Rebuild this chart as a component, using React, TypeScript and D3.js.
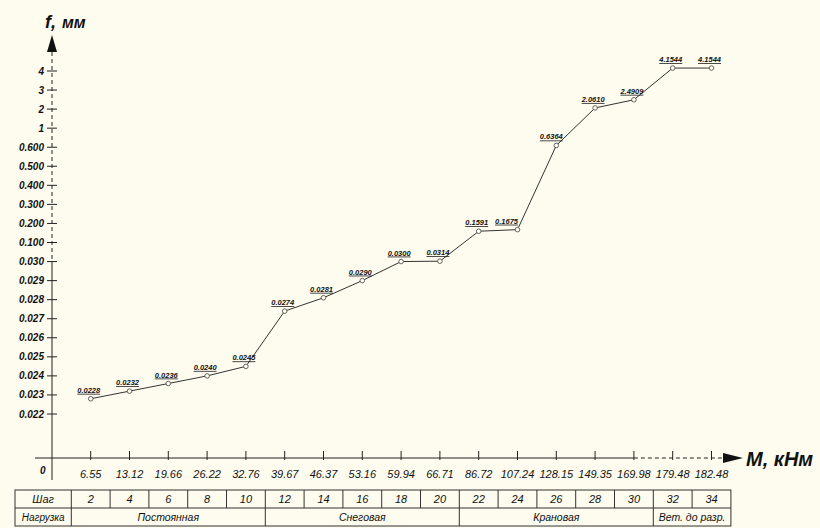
import * as d3 from "d3";

// M, kN·m — one tick per load step
const moments = [
  "6.55", "13.12", "19.66", "26.22", "32.76", "39.67", "46.37", "53.16", "59.94",
  "66.71", "86.72", "107.24", "128.15", "149.35", "169.98", "179.48", "182.48",
];
const steps = ["2", "4", "6", "8", "10", "12", "14", "16", "18", "20", "22", "24", "26", "28", "30", "32", "34"];
// deflection f, mm
const deflections = [
  0.0228, 0.0232, 0.0236, 0.024, 0.0245, 0.0274, 0.0281, 0.029, 0.03, 0.0314,
  0.1591, 0.1675, 0.6364, 2.061, 2.4909, 4.1544, 4.1544,
];
const deflLabels = [
  "0.0228", "0.0232", "0.0236", "0.0240", "0.0245", "0.0274", "0.0281", "0.0290", "0.0300", "0.0314",
  "0.1591", "0.1675", "0.6364", "2.0610", "2.4909", "4.1544", "4.1544",
];
// the y axis is broken: equal spacing between these ticks
const yTicks = [0.022, 0.023, 0.024, 0.025, 0.026, 0.027, 0.028, 0.029, 0.03, 0.1, 0.2, 0.3, 0.4, 0.5, 0.6, 1, 2, 3, 4];
const yTickLabels = [
  "0.022", "0.023", "0.024", "0.025", "0.026", "0.027", "0.028", "0.029", "0.030",
  "0.100", "0.200", "0.300", "0.400", "0.500", "0.600", "1", "2", "3", "4",
];
const loads = [
  { name: "Постоянная", from: 0, to: 4 },
  { name: "Снеговая", from: 5, to: 9 },
  { name: "Крановая", from: 10, to: 14 },
  { name: "Вет. до разр.", from: 15, to: 16 },
];

const W = 820;
const H = 528;
const axisX = 52;
const axisY = 458;
const font = "'Liberation Sans', Arial, sans-serif";

export default function App() {
  const x = d3.scalePoint<string>().domain(moments).range([90.7, 711.5]);
  const step = x.step();

  const yTop = 71;
  const yBottom = 414;
  const yStep = (yBottom - yTop) / (yTicks.length - 1);
  const y = d3
    .scaleLinear()
    .domain(yTicks)
    .range(yTicks.map((_, i) => yBottom - i * yStep));

  const line = d3
    .line<number>()
    .x((_, i) => x(moments[i]) as number)
    .y((d) => y(d));

  const dashStartX = x("169.98") as number;
  const breakY = y(0.03);

  const tableLeft = 15;
  const tableTop = 490;
  const rowH = 18;
  const firstCol = (x(moments[0]) as number) - step / 2;
  const tableRight = (x(moments[moments.length - 1]) as number) + step / 2;

  const labelDx = (i: number) => (i === 11 ? -11 : i === 12 ? -5 : -2);

  return (
    <svg
      width={W}
      height={H}
      style={{ position: "absolute", left: 0, top: 0, background: "#fdfcef" }}
      fontFamily={font}
    >
      {/* y axis */}
      <line x1={axisX} x2={axisX} y1={52} y2={breakY} stroke="#222" strokeDasharray="4,3" />
      <line x1={axisX} x2={axisX} y1={breakY} y2={480} stroke="#222" />
      <path d={`M${axisX},35 L${axisX - 5},52 L${axisX + 5},52 Z`} fill="#111" />
      <text x={45} y={28} fontSize={18} fontWeight="bold" fontStyle="italic" fill="#111">
        f,
      </text>
      <text x={62} y={28} fontSize={16} fontWeight="bold" fontStyle="italic" fill="#111">
        мм
      </text>
      {yTicks.map((t, i) => (
        <g key={i} transform={`translate(0,${y(t)})`}>
          <line x1={axisX - 5} x2={axisX + 5} stroke="#222" />
          <text
            x={44}
            dy="0.35em"
            textAnchor="end"
            fontSize={10}
            fontWeight="bold"
            fontStyle="italic"
            fill="#111"
          >
            {yTickLabels[i]}
          </text>
        </g>
      ))}

      {/* x axis */}
      <line x1={35} x2={dashStartX} y1={axisY} y2={axisY} stroke="#222" />
      <line x1={dashStartX} x2={723} y1={axisY} y2={axisY} stroke="#222" strokeDasharray="4,3" />
      <path d={`M743,${axisY} L723,${axisY - 5} L723,${axisY + 5} Z`} fill="#111" />
      <text x={746} y={466} fontSize={20} fontWeight="bold" fontStyle="italic" fill="#111">
        М, кНм
      </text>
      <text x={40} y={474} fontSize={10} fontWeight="bold" fontStyle="italic" fill="#111">
        0
      </text>
      {moments.map((m) => (
        <g key={m} transform={`translate(${x(m)},0)`}>
          <line y1={451} y2={460} stroke="#222" />
          <text y={478} textAnchor="middle" fontSize={11} fontStyle="italic" fill="#111">
            {m}
          </text>
        </g>
      ))}

      {/* curve */}
      <path d={line(deflections) ?? ""} fill="none" stroke="#333" strokeWidth={1} />
      {deflections.map((d, i) => (
        <g key={i} transform={`translate(${x(moments[i])},${y(d)})`}>
          <circle r={2.3} fill="#fdfcef" stroke="#555" strokeWidth={0.9} />
          <text
            x={labelDx(i)}
            y={-6}
            textAnchor="middle"
            fontSize={7.5}
            fontWeight="bold"
            fontStyle="italic"
            fill="#111"
            textDecoration="underline"
          >
            {deflLabels[i]}
          </text>
        </g>
      ))}

      {/* table */}
      <g stroke="#333" strokeWidth={1} fill="none">
        <rect x={tableLeft} y={tableTop} width={tableRight - tableLeft} height={rowH * 2} />
        <line x1={tableLeft} x2={tableRight} y1={tableTop + rowH} y2={tableTop + rowH} />
        <line x1={firstCol} x2={firstCol} y1={tableTop} y2={tableTop + rowH * 2} />
        {moments.slice(1).map((m) => (
          <line
            key={m}
            x1={(x(m) as number) - step / 2}
            x2={(x(m) as number) - step / 2}
            y1={tableTop}
            y2={tableTop + rowH}
          />
        ))}
        {loads.slice(1).map((l) => (
          <line
            key={l.name}
            x1={(x(moments[l.from]) as number) - step / 2}
            x2={(x(moments[l.from]) as number) - step / 2}
            y1={tableTop + rowH}
            y2={tableTop + rowH * 2}
          />
        ))}
      </g>
      <g fontStyle="italic" fill="#111" textAnchor="middle">
        <text x={(tableLeft + firstCol) / 2} y={tableTop + 13} fontSize={11}>
          Шаг
        </text>
        <text x={(tableLeft + firstCol) / 2} y={tableTop + rowH + 13} fontSize={10}>
          Нагрузка
        </text>
        {steps.map((s, i) => (
          <text key={s} x={x(moments[i])} y={tableTop + 13} fontSize={11}>
            {s}
          </text>
        ))}
        {loads.map((l) => (
          <text
            key={l.name}
            x={((x(moments[l.from]) as number) + (x(moments[l.to]) as number)) / 2}
            y={tableTop + rowH + 13}
            fontSize={10.5}
          >
            {l.name}
          </text>
        ))}
      </g>
    </svg>
  );
}
